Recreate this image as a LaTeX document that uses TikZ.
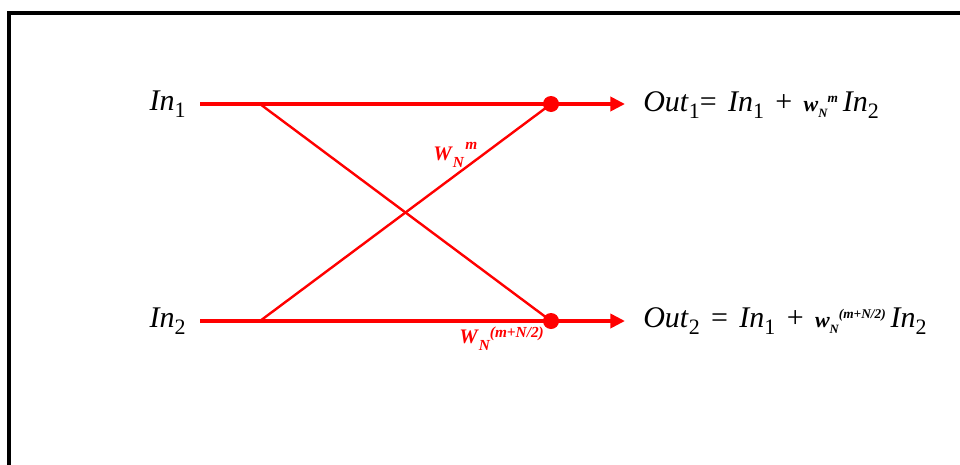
\documentclass[tikz,border=0pt]{standalone}
\usepackage{fontspec}
\setmainfont{Liberation Serif}
\usetikzlibrary{positioning,arrows.meta,calc}

\newcommand\lowsub[2][16.5]{\raisebox{-0.25em}{\fontsize{#1}{#1}\selectfont\upshape #2}}
\newcommand\wfac[2]{{\fontsize{16.5}{16.5}\selectfont\bfseries\itshape w}\raisebox{-0.2em}{\fontsize{9.5}{9.5}\selectfont\bfseries\itshape #1}\raisebox{0.3em}{\fontsize{10}{10}\selectfont\bfseries\itshape #2}}
\newcommand\Wlab[3][0.5em]{\textbf{\textit{W}}\raisebox{-0.35em}{\fontsize{11.5}{11.5}\selectfont\bfseries\itshape #2}\raisebox{#1}{\fontsize{11.5}{11.5}\selectfont\bfseries\itshape #3}}
\newcommand\largefont{\fontsize{22.5}{22.5}\selectfont\spaceskip=8.5pt plus 2pt\relax}

\tikzset{
  ramo/.style={red, line width=3pt},
  cruz/.style={red, line width=1.8pt},
  ponto/.style={circle, fill=red, inner sep=0pt, minimum size=12pt},
  rotulo/.style={font=\largefont, inner sep=0pt},
  peso/.style={red, font=\fontsize{15.5}{15.5}\selectfont, inner sep=0pt},
}

\begin{document}
\begin{tikzpicture}[x=0.75pt, y=-0.75pt, >={Triangle[length=11pt,width=10.5pt]}]
        \useasboundingbox (0,0) rectangle (960,464);
        \clip (0,0) rectangle (960,464);

        % Moldura
        \draw[line width=3pt] (9,13) rectangle (1000,520);

        % Entradas
        \node[rotulo, anchor=base east] (in1) at (186,110) {\textit{In}\lowsub{1}};
        \node[rotulo, anchor=base east] (in2) at (186,327) {\textit{In}\lowsub{2}};

        \coordinate (a1) at (200,104);
        \coordinate (a2) at (200,321);
        \coordinate (b1) at (260,104);
        \coordinate (b2) at (260,321);
        \node[ponto] (c1) at (551,104) {};
        \node[ponto] (c2) at (551,321) {};
        \coordinate (e1) at (625,104);
        \coordinate (e2) at (625,321);

        % Ramos horizontais
        \draw[ramo, ->] (a1) -- (e1);
        \draw[ramo, ->] (a2) -- (e2);

        % Borboleta
        \draw[cruz] (b1) -- (c2.center);
        \draw[cruz] (b2) -- (c1.center);

        % Pesos
        \node[peso, anchor=base west] (w1) at (433,160) {\Wlab{N}{\kern1pt m}};
        \node[peso, anchor=base west] (w2) at (459,343) {\Wlab[0.25em]{N}{(m+N/2)}};

        % Saidas
        \node[rotulo, anchor=base west] (out1) at (643,111)
          {\textit{Out}\lowsub{1}= \textit{In}\lowsub{1} + \wfac{N}{m}\,\textit{In}\lowsub{2}};
        \node[rotulo, anchor=base west] (out2) at (643,327)
          {\textit{Out}\lowsub{2} = \textit{In}\lowsub{1} + \wfac{N}{(m+N/2)}\,\textit{In}\lowsub{2}};

    \end{tikzpicture}
\end{document}
